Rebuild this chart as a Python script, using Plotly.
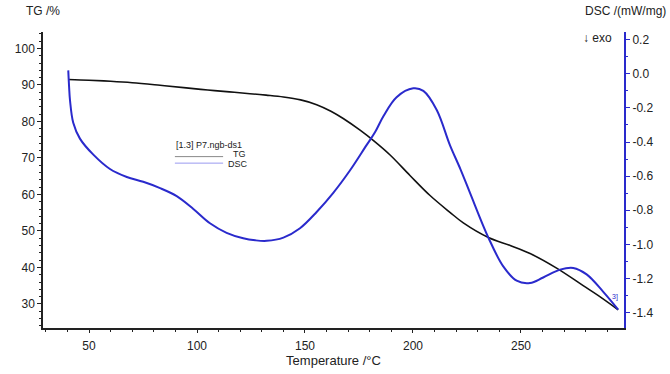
import plotly.graph_objects as go

# TG curve (temperature °C, mass %)
tg_T = [40.4, 50, 60, 70, 82.9, 95, 105, 115, 124.5, 132, 140, 148, 155.4, 162, 167.7, 175.5, 181.6,
        189.4, 198.6, 207.9, 217.1, 223.3, 234.9, 245, 254.2, 266.5, 278.8, 287, 295.0]
tg_v = [91.5, 91.3, 91.0, 90.6, 89.9, 89.2, 88.6, 88.1, 87.6, 87.2, 86.7, 85.9, 84.6, 82.8, 80.8, 77.6, 74.8,
        70.8, 65.2, 59.7, 55.1, 52.2, 48.2, 46.0, 43.8, 39.8, 35.0, 31.8, 28.4]

# DSC curve (temperature °C, mW/mg)
dsc_T = [40.4, 40.8, 41.2, 42.7, 45.8, 52.0, 59.7, 67.5, 75.1, 82.9, 90.6, 98.3, 106, 113.7,
         121.4, 127, 132.3, 140, 147.7, 155.4, 163.1, 170.8, 178.5, 182.4, 186.3, 192.4, 200.1,
         204.8, 211, 217.1, 222, 226.4, 234.9, 241.8, 248, 254.2, 260.3, 268.1, 274.2, 280.4,
         288.1, 295.0]
dsc_v = [0.02, -0.08, -0.155, -0.287, -0.38, -0.474, -0.558, -0.605, -0.633, -0.670, -0.717,
         -0.792, -0.876, -0.932, -0.964, -0.976, -0.979, -0.96, -0.905, -0.81, -0.698, -0.567,
         -0.418, -0.343, -0.249, -0.137, -0.085, -0.1, -0.212, -0.418, -0.56, -0.698, -0.96,
         -1.129, -1.213, -1.226, -1.194, -1.148, -1.138, -1.176, -1.278, -1.382]

tg_ticks = [30, 40, 50, 60, 70, 80, 90, 100]
dsc_ticks = [0.2, 0.0, -0.2, -0.4, -0.6, -0.8, -1.0, -1.2, -1.4]
x_ticks = [50, 100, 150, 200, 250]

BLUE = "#2a2acc"
FONT = "Liberation Sans, Arial, sans-serif"

fig = go.Figure()
fig.add_trace(go.Scatter(x=tg_T, y=tg_v, mode="lines",
                         line=dict(color="#111111", width=1.6, shape="spline", smoothing=1.0),
                         name="TG", showlegend=False))
fig.add_trace(go.Scatter(x=dsc_T, y=dsc_v, mode="lines",
                         line=dict(color=BLUE, width=2, shape="spline", smoothing=1.0),
                         name="DSC", yaxis="y2", showlegend=False))

fig.update_layout(
    width=670, height=374,
    margin=dict(l=43, r=46, t=32, b=33),
    paper_bgcolor="white", plot_bgcolor="white",
    font=dict(family=FONT, size=12, color="#222222"),
    xaxis=dict(range=[28.7, 297.7], tickvals=x_ticks, showgrid=False, zeroline=False,
               showline=True, linecolor="#222222", linewidth=1.5, ticks="outside", ticklen=3,
               tickcolor="#222222", ticklabelstandoff=3,
               minor=dict(ticks="outside", ticklen=2, dtick=10, tick0=0, tickcolor="#222222"),
               title=dict(text="Temperature /°C", font=dict(size=13), standoff=0)),
    yaxis=dict(range=[23.4, 104.5], tickvals=tg_ticks, showgrid=False, zeroline=False,
               showline=True, linecolor="#222222", linewidth=1.5, ticks="outside", ticklen=4,
               tickcolor="#222222",
               minor=dict(ticks="outside", ticklen=2, dtick=2, tick0=0, tickcolor="#222222")),
    yaxis2=dict(range=[-1.49, 0.245], tickvals=dsc_ticks, ticktext=[f"{v:.1f}" for v in dsc_ticks],
                overlaying="y", side="right", showgrid=False, zeroline=False,
                showline=True, linecolor=BLUE, linewidth=2, ticks="outside", ticklen=4,
                tickcolor=BLUE,
                minor=dict(ticks="outside", ticklen=2, dtick=0.1, tick0=0, tickcolor=BLUE)),
)

fig.add_annotation(text="TG /%", xref="paper", yref="paper", x=0.0, y=1.0, yshift=21,
                   showarrow=False, xanchor="center", yanchor="middle", font=dict(size=12))
fig.add_annotation(text="DSC /(mW/mg)", xref="paper", yref="paper", x=1.0, xshift=44, y=1.0, yshift=21,
                   showarrow=False, xanchor="right", yanchor="middle", font=dict(size=12))
fig.add_annotation(text="↓ exo", xref="paper", yref="paper", x=1.0, xshift=-10, y=1.0, yshift=-6,
                   showarrow=False, xanchor="right", yanchor="middle", font=dict(size=12))

# legend block
fig.add_annotation(text="[1.3] P7.ngb-ds1", xref="paper", yref="paper", x=0.226, y=0.618,
                   showarrow=False, xanchor="left", yanchor="middle", font=dict(size=9))
fig.add_annotation(text="TG", xref="paper", yref="paper", x=0.339, y=0.589,
                   showarrow=False, xanchor="center", yanchor="middle", font=dict(size=9))
fig.add_annotation(text="DSC", xref="paper", yref="paper", x=0.335, y=0.553,
                   showarrow=False, xanchor="center", yanchor="middle", font=dict(size=9))
fig.add_shape(type="line", xref="paper", yref="paper", x0=0.227, x1=0.310, y0=0.579, y1=0.579,
              line=dict(color="#888888", width=1))
fig.add_shape(type="line", xref="paper", yref="paper", x0=0.227, x1=0.310, y0=0.557, y1=0.557,
              line=dict(color="#9a9af0", width=1))
# small step marker near end of DSC
fig.add_annotation(text="3]", x=291, y=-1.31, yref="y2", showarrow=False,
                   font=dict(size=7, color=BLUE), xanchor="left")

fig.write_html("out.html")
